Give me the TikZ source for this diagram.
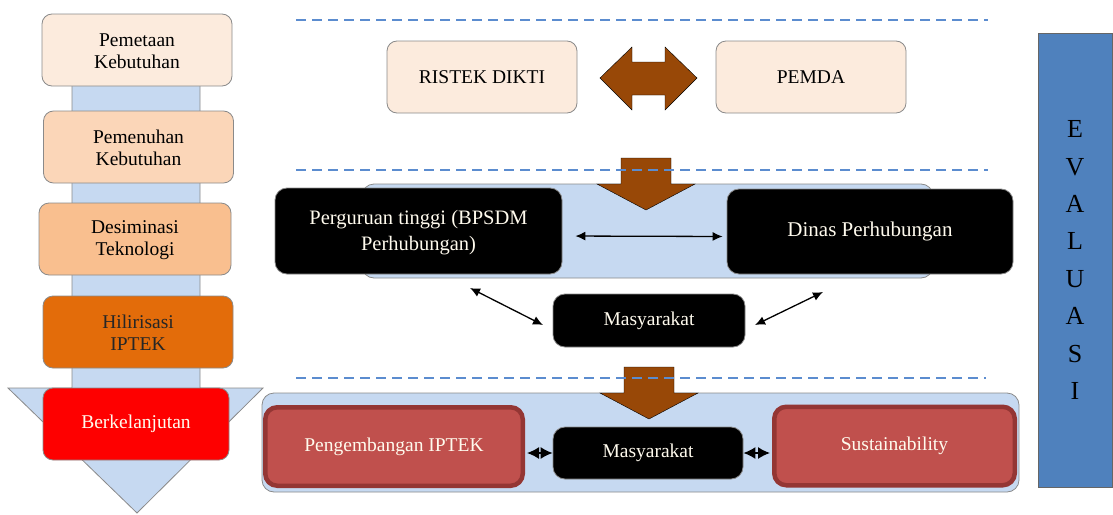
\documentclass[tikz,border=0pt]{standalone}
\usepackage{fontspec}
\setmainfont{Liberation Serif}
\usetikzlibrary{arrows.meta}
\definecolor{pk1}{HTML}{FCEBDD}
\definecolor{pk2}{HTML}{FBD6B8}
\definecolor{pk3}{HTML}{F9BF8F}
\definecolor{org}{HTML}{E36C0A}
\definecolor{rd}{HTML}{FE0000}
\definecolor{lblue}{HTML}{C6D9F1}
\definecolor{brn}{HTML}{984807}
\definecolor{dblue}{HTML}{5B8CCF}
\definecolor{eblue}{HTML}{4F81BD}
\definecolor{rbox}{HTML}{C0504D}
\definecolor{rbord}{HTML}{943634}
\definecolor{gbord}{HTML}{8A8A8A}
\definecolor{cream}{HTML}{FFFBEE}
\begin{document}
\begin{tikzpicture}[x=1pt,y=-1pt,
  txt/.style={font=\fontsize{19.5}{22}\selectfont},
  lbox/.style={txt,draw=gbord,line width=0.8pt,rounded corners=10pt,align=center,inner sep=0pt,minimum width=190pt,minimum height=72pt},
  bbox/.style={txt,fill=black,draw=gbord,line width=0.8pt,rounded corners=12pt,align=center,inner sep=0pt,text=cream},
  rrbox/.style={txt,fill=rbox,draw=rbord,line width=4.5pt,rounded corners=12pt,align=center,inner sep=0pt,text=cream},
  band/.style={fill=lblue,draw=gbord,line width=0.8pt,rounded corners=12pt},
  dline/.style={dblue,line width=2.4pt,dash pattern=on 10pt off 6pt},
  brarrow/.style={fill=brn},
  conn/.style={line width=1.3pt,{Latex[length=10pt,width=9pt]}-{Latex[length=10pt,width=9pt]}},
  sconn/.style={line width=1.5pt,{Latex[length=12pt,width=12pt]}-{Latex[length=12pt,width=12pt]}}
]
\useasboundingbox (0,0) rectangle (1113,514);

% left column arrow
\draw[fill=lblue,draw=gbord,line width=0.8pt] (72,80) -- (200,80) -- (200,388) -- (263,388) -- (137,513) -- (8,388) -- (72,388) -- cycle;

\node[lbox,fill=pk1] (n1) at (137,50) {\strut Pemetaan\\Kebutuhan};
\node[lbox,fill=pk2] (n2) at (138.5,147) {\strut Pemenuhan\\Kebutuhan};
\node[lbox,fill=pk3,minimum width=192pt] (n3) at (135,239) {\strut Desiminasi\\Teknologi};
\node[lbox,fill=org,text=black!85] (n4) at (138,332) {\strut Hilirisasi\\IPTEK};
\node[lbox,fill=rd,text=cream,minimum width=186pt] (n5) at (136,424) {Berkelanjutan};

% bands
\draw[band] (362,184) rectangle (933,278);
\draw[band] (262,393) rectangle (1019,492);

% brown arrows
\draw[brarrow] (621,158) -- (671,158) -- (671,184) -- (695,184) -- (646,210) -- (597,184) -- (621,184) -- cycle;
\draw[brarrow] (624,367) -- (674,367) -- (674,393) -- (698,393) -- (649,419) -- (600,393) -- (624,393) -- cycle;

% dashed lines
\draw[dline] (296,20) -- (988,20);
\draw[dline] (296,170) -- (988,170);
\draw[dline] (296,378) -- (986,378);

% top row
\node[lbox,fill=pk1] (ristek) at (482,77) {RISTEK DIKTI};
\node[lbox,fill=pk1] (pemda) at (811,77) {PEMDA};
\draw[brarrow] (600,78) -- (632,47) -- (632,62) -- (665,62) -- (665,47) -- (697,78) -- (665,110) -- (665,95) -- (632,95) -- (632,110) -- cycle;

% middle row
\node[bbox,minimum width=287pt,minimum height=86pt,font=\fontsize{20.5}{25.5}\selectfont] (pt) at (418.5,231) {\strut Perguruan tinggi (BPSDM\\Perhubungan)};
\node[bbox,minimum width=286pt,minimum height=85pt,font=\fontsize{21}{24}\selectfont] (dp) at (870,231.5) {Dinas Perhubungan};
\node[bbox,minimum width=192pt,minimum height=53pt] (m1) at (649,320.5) {Masyarakat};
\draw[conn,shorten <=13pt,shorten >=4pt] ([yshift=-5pt]pt.east) -- ([yshift=-5pt]dp.west);
\coordinate (c1) at (470,288);
\coordinate (c2) at (543,325);
\coordinate (c3) at (755,325);
\coordinate (c4) at (823,292);
\draw[conn] (c1) -- (c2);
\draw[conn] (c3) -- (c4);

% bottom row
\node[rrbox,minimum width=257.5pt,minimum height=78.5pt] (peng) at (394,446.5) {Pengembangan IPTEK};
\node[bbox,minimum width=190pt,minimum height=52pt] (m2) at (648,453) {Masyarakat};
\node[rrbox,minimum width=240.5pt,minimum height=78.5pt] (sus) at (894.5,446) {Sustainability};
\draw[sconn,shorten <=2pt] (peng.east |- m2.west) -- (m2.west);
\draw[sconn,shorten >=2pt] (m2.east) -- (sus.west |- m2.east);

% evaluasi
\node[fill=eblue,draw=black!60,line width=0.8pt,minimum width=74pt,minimum height=454pt,inner sep=0pt,align=center,font=\fontsize{26}{37.4}\selectfont] (ev) at (1075,260) {E\\V\\A\\L\\U\\A\\S\\I};
\end{tikzpicture}
\end{document}
